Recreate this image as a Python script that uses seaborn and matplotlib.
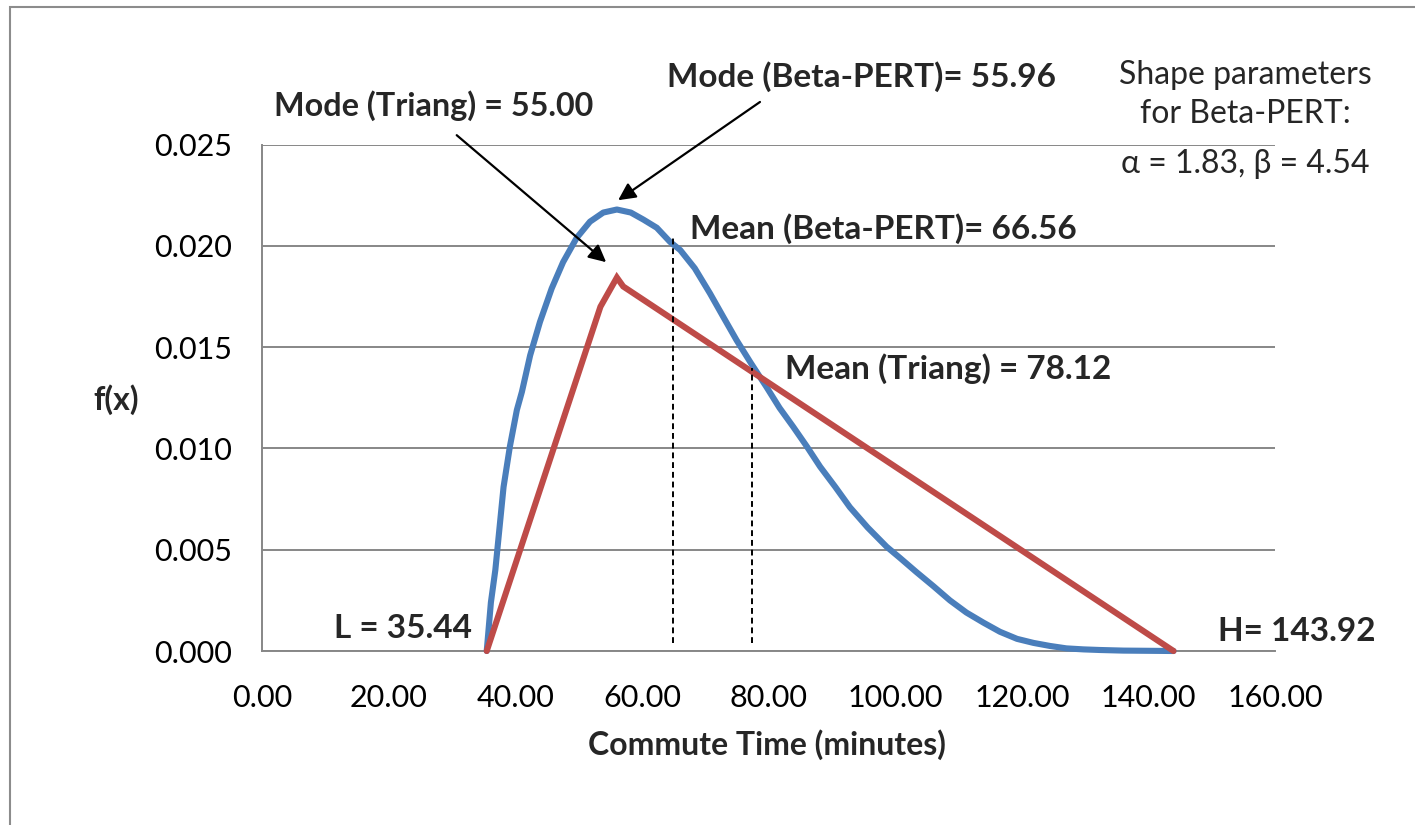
import matplotlib
matplotlib.use("Agg")
import matplotlib.pyplot as plt
import seaborn as sns
import pandas as pd
from matplotlib.patches import Rectangle
from matplotlib.ticker import FormatStrFormatter

# ---- data ----
pert_x = [35.44, 36.1, 36.8, 38.1, 39.1, 40.2, 41.0, 42.3, 43.85, 45.7, 47.5, 49.65,
          51.75, 53.85, 56.0, 58.2, 60.2, 62.3, 64.4, 66.0, 68.3, 70.7, 72.8, 74.9,
          77.2, 79.6, 81.7, 83.85, 86.0, 88.1, 90.5, 92.8, 95.6, 98.6, 100.7, 103.3,
          106.0, 108.6, 111.2, 113.9, 116.5, 119.2, 121.8, 124.4, 127.0, 129.7, 132.3,
          136.0, 140.0, 143.92]
pert_y = [0.0, 0.0024, 0.0040, 0.0081, 0.0101, 0.0119, 0.0128, 0.0146, 0.01625, 0.0179,
          0.0192, 0.0204, 0.0212, 0.02165, 0.0218, 0.02165, 0.0213, 0.0209, 0.0202,
          0.0198, 0.0189, 0.01766, 0.0165, 0.01535, 0.0142, 0.01305, 0.0120, 0.01107,
          0.0101, 0.0091, 0.0081, 0.0071, 0.0061, 0.00515, 0.0046, 0.0039, 0.0032,
          0.0025, 0.0019, 0.0014, 0.00095, 0.0006, 0.0004, 0.00025, 0.00013, 0.00008,
          0.00005, 0.00002, 0.00001, 0.0]
tri_x = [35.44, 53.4, 56.0, 57.0, 143.92]
tri_y = [0.0, 0.0170, 0.01844, 0.0180, 0.0]
mean_x = [64.9, 77.3]
mean_bottom = [0.0004, 0.0004]
mean_top = [0.0205, 0.01395]
x_ticks = [0, 20, 40, 60, 80, 100, 120, 140, 160]
y_ticks = [0.000, 0.005, 0.010, 0.015, 0.020, 0.025]

pert_df = pd.DataFrame({"x": pert_x, "y": pert_y})
tri_df = pd.DataFrame({"x": tri_x, "y": tri_y})

sns.set_style("white")
plt.rcParams["font.family"] = ["Lato", "DejaVu Sans"]

GRID = "#878787"
BLUE = "#4a7ebb"
RED = "#be4b48"

fig = plt.figure(figsize=(14.15, 8.25), dpi=100)
ax = fig.add_axes([0.1854, 0.2109, 0.7159, 0.6137])

sns.lineplot(data=pert_df, x="x", y="y", ax=ax, color=BLUE, linewidth=4.4,
             sort=False, estimator=None, clip_on=False, solid_capstyle="round",
             solid_joinstyle="round", zorder=3)
sns.lineplot(data=tri_df, x="x", y="y", ax=ax, color=RED, linewidth=4.4,
             sort=False, estimator=None, clip_on=False, solid_capstyle="round",
             solid_joinstyle="miter", zorder=4)
ax.vlines(mean_x, mean_bottom, mean_top, colors="black", linestyles=(0, (3, 2)),
          linewidth=1.4, zorder=5)

ax.set_xlim(0, 160)
ax.set_ylim(0, 0.025)
ax.set_xticks(x_ticks)
ax.set_yticks(y_ticks)
ax.xaxis.set_major_formatter(FormatStrFormatter("%.2f"))
ax.yaxis.set_major_formatter(FormatStrFormatter("%.3f"))
ax.set_axisbelow(True)
ax.yaxis.grid(True, color=GRID, linewidth=1.4)
ax.xaxis.grid(False)
for s in ["top", "right"]:
    ax.spines[s].set_visible(False)
for s in ["left", "bottom"]:
    ax.spines[s].set_color(GRID)
    ax.spines[s].set_linewidth(1.4)
ax.tick_params(axis="both", direction="out", length=7, width=1.4, color=GRID,
               labelsize=22, labelcolor="black")
ax.tick_params(axis="x", pad=17)
ax.tick_params(axis="y", pad=15)
ax.set_xlabel("")
ax.set_ylabel("")

fig.text(767 / 1415, 1 - 755 / 825, "Commute Time (minutes)", ha="center",
         va="baseline", fontsize=23, fontweight="bold")
fig.text(116 / 1415, 1 - 410 / 825, "f(x)", ha="center", va="baseline",
         fontsize=23, fontweight="bold")

bold = dict(fontsize=24, fontweight="bold", va="baseline")
ax.text(27.0, 0.02641, "Mode (Triang) = 55.00", ha="center", fontsize=23.3,
        fontweight="bold", va="baseline")
ax.text(94.6, 0.02785, "Mode (Beta-PERT)= 55.96", ha="center", **bold)
ax.text(67.5, 0.02037, "Mean (Beta-PERT)= 66.56", ha="left", **bold)
ax.text(82.5, 0.01346, "Mean (Triang) = 78.12", ha="left", **bold)
ax.text(33.1, 0.00063, "L = 35.44", ha="right", **bold)
ax.text(150.9, 0.00051, "H= 143.92", ha="left", **bold)

norm = dict(fontsize=23, ha="center", va="baseline")
ax.text(155.3, 0.02802, "Shape parameters", **norm)
ax.text(155.3, 0.02605, "for Beta-PERT:", **norm)
ax.text(155.3, 0.02358, "\u03b1 = 1.83, \u03b2 = 4.54", **norm)

arrow = dict(arrowstyle="-|>", color="black", lw=1.6, mutation_scale=26,
             shrinkA=0, shrinkB=0)
ax.annotate("", xy=(54.3, 0.0192), xytext=(30.7, 0.02547), arrowprops=arrow,
            annotation_clip=False)
ax.annotate("", xy=(56.2, 0.02226), xytext=(78.6, 0.02711), arrowprops=arrow,
            annotation_clip=False)

fig.patches.append(Rectangle((10 / 1415, -0.02), 1.05, 1 - 7.3 / 825 + 0.02,
                             transform=fig.transFigure, fill=False,
                             edgecolor="#8c8c8c", linewidth=1.5))

fig.savefig("out.png", dpi=100)
